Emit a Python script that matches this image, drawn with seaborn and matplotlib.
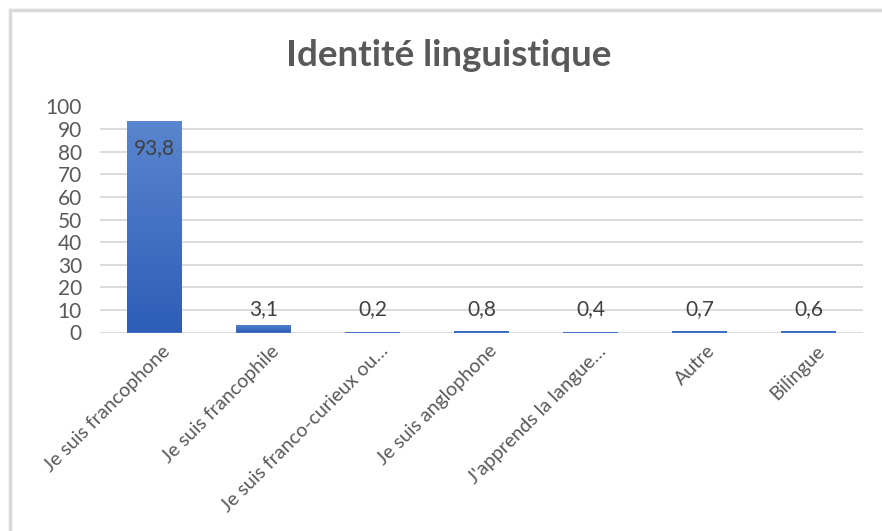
import matplotlib
matplotlib.use("Agg")
import matplotlib.pyplot as plt
import matplotlib.transforms as mtransforms
import seaborn as sns
import pandas as pd
import numpy as np
from matplotlib.patches import Rectangle
from matplotlib.colors import LinearSegmentedColormap

categories = ["Je suis francophone", "Je suis francophile", "Je suis franco-curieux ou…",
              "Je suis anglophone", "J'apprends la langue…", "Autre", "Bilingue"]
values = [93.8, 3.1, 0.2, 0.8, 0.4, 0.7, 0.6]
value_labels = ["93,8", "3,1", "0,2", "0,8", "0,4", "0,7", "0,6"]
yticks = [0, 10, 20, 30, 40, 50, 60, 70, 80, 90, 100]

sns.set_theme(style="white")
plt.rcParams['font.family'] = ['Lato', 'DejaVu Sans']

df = pd.DataFrame({"cat": categories, "val": values})

fig = plt.figure(figsize=(8.82, 5.31), dpi=100)
ax = fig.add_axes([100/882, 1-332.5/531, (863-100)/882, (332.5-106.5)/531])

sns.barplot(data=df, x="cat", y="val", ax=ax, color="#4472C4", width=0.5,
            saturation=1, linewidth=0, zorder=3)

# vertical gradient fill for each bar (light top, darker bottom)
cmap = LinearSegmentedColormap.from_list("g", ["#2E5DB7", "#5A86CF"])
grad = np.linspace(0, 1, 256).reshape(-1, 1)
for p in ax.patches:
    x0, y0 = p.get_x(), p.get_y()
    w, h = p.get_width(), p.get_height()
    if h <= 0:
        continue
    im = ax.imshow(grad, cmap=cmap, origin="lower", aspect="auto",
                   extent=[x0, x0 + w, y0, y0 + h], zorder=3.5)
    im.set_clip_path(p)

ax.set_ylim(0, 100)
ax.set_yticks(yticks)
ax.set_yticklabels([str(t) for t in yticks], fontsize=15, color="#595959")
ax.yaxis.grid(True, color="#D9D9D9", linewidth=1.3, zorder=0)
ax.set_axisbelow(True)
for s in ax.spines.values():
    s.set_visible(False)
ax.tick_params(axis="y", length=0, pad=13)
ax.set_xlabel("")
ax.set_ylabel("")
ax.set_xlim(-0.5, len(categories) - 0.5)
ax.set_xticks(range(len(categories)))
ax.set_xticklabels(categories, rotation=45, ha="right", rotation_mode="anchor",
                   fontsize=14, color="#595959")
ax.tick_params(axis="x", length=0, pad=7)
offset = mtransforms.ScaledTranslation(7/100, 0, fig.dpi_scale_trans)
for lab in ax.get_xticklabels():
    lab.set_transform(lab.get_transform() + offset)

for i, (v, lab) in enumerate(zip(values, value_labels)):
    if v > 50:
        ax.annotate(lab, (i, v), xytext=(0, -13), textcoords="offset points",
                    ha="center", va="top", fontsize=15, color="#404040", zorder=5)
    else:
        ax.annotate(lab, (i, max(v, 3.1)), xytext=(0, 7.5), textcoords="offset points",
                    ha="center", va="baseline", fontsize=15, color="#404040", zorder=5)

fig.text(449/882, 1-55/531, "Identité linguistique", ha="center", va="center",
         fontsize=26.5, fontweight="bold", color="#595959")

fig.patches.append(Rectangle((10/882, -0.1), 1.2, 1.1 - 10/531,
                             transform=fig.transFigure, fill=False,
                             edgecolor="#D9D9D9", linewidth=2.5))

fig.savefig("out.png", dpi=100, facecolor="white")
